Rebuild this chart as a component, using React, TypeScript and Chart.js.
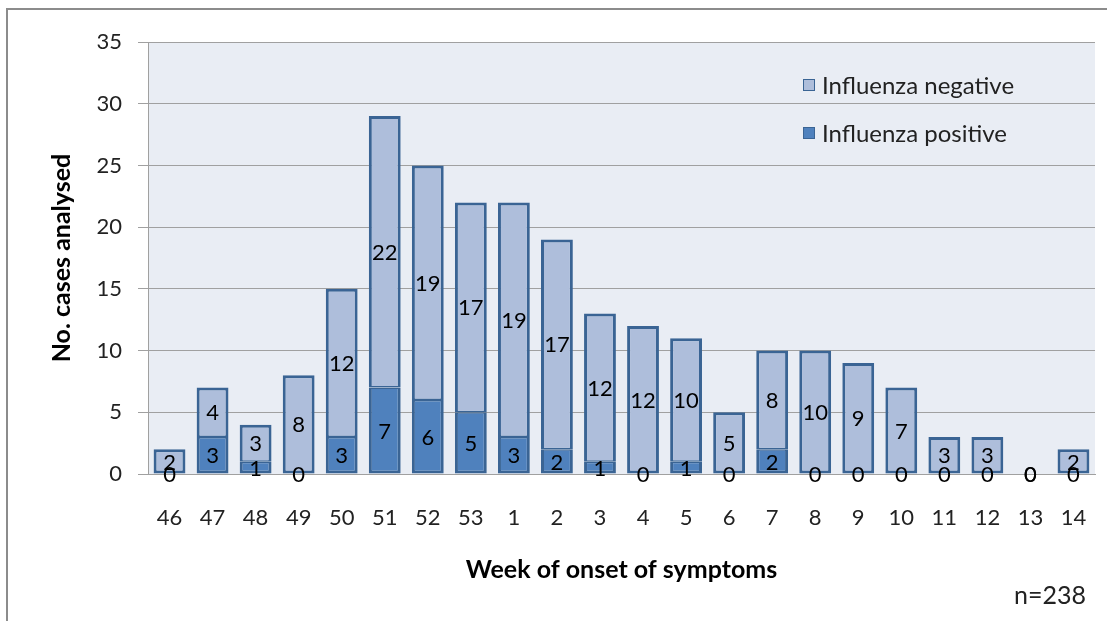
import React, { useEffect, useRef } from 'react';
import { Chart, registerables } from 'chart.js';

Chart.register(...registerables);

const weeks = ['46', '47', '48', '49', '50', '51', '52', '53', '1', '2', '3', '4', '5', '6', '7', '8', '9', '10', '11', '12', '13', '14'];
const positive = [0, 3, 1, 0, 3, 7, 6, 5, 3, 2, 1, 0, 1, 0, 2, 0, 0, 0, 0, 0, 0, 0];
const negative = [2, 4, 3, 8, 12, 22, 19, 17, 19, 17, 12, 12, 10, 5, 8, 10, 9, 7, 3, 3, 0, 2];
const seriesNames = ['Influenza positive', 'Influenza negative'];
const yMin = 0;
const yMax = 35;
const yStep = 5;
const xTitle = 'Week of onset of symptoms';
const yTitle = 'No. cases analysed';
const note = 'n=238';

const FONT = 'Lato, "Noto Sans", sans-serif';
const POS_COLOR = '#4F81BD';
const NEG_COLOR = '#AEBEDB';
const BORDER = '#3A6494';

const decorPlugin = {
  id: 'decor',
  beforeDraw(chart: any) {
    const { ctx, chartArea } = chart;
    ctx.save();
    ctx.fillStyle = '#ffffff';
    ctx.fillRect(0, 0, chart.width, chart.height);
    ctx.fillStyle = '#E9EDF4';
    ctx.fillRect(chartArea.left, chartArea.top, chartArea.right - chartArea.left, chartArea.bottom - chartArea.top);
    ctx.strokeStyle = '#8C8C8C';
    ctx.lineWidth = 2;
    ctx.beginPath();
    ctx.moveTo(7, chart.height);
    ctx.lineTo(7, 9);
    ctx.lineTo(chart.width, 9);
    ctx.stroke();
    ctx.restore();
  },
  afterDatasetsDraw(chart: any) {
    const { ctx, chartArea } = chart;
    ctx.save();
    ctx.fillStyle = '#000000';
    ctx.textAlign = 'center';
    ctx.textBaseline = 'middle';
    ctx.font = '22px ' + FONT;
    chart.data.datasets.forEach((ds: any, di: number) => {
      const meta = chart.getDatasetMeta(di);
      meta.data.forEach((el: any, i: number) => {
        const v = ds.data[i];
        const cy = (el.y + el.base) / 2;
        ctx.fillText(String(v), el.x, cy + 1);
      });
    });
    // legend
    const items = [
      { label: seriesNames[1], color: NEG_COLOR, y: 85 },
      { label: seriesNames[0], color: POS_COLOR, y: 133 },
    ];
    ctx.textAlign = 'left';
    ctx.font = '24px ' + FONT;
    items.forEach((it) => {
      ctx.fillStyle = it.color;
      ctx.fillRect(803, it.y - 6, 12, 12);
      ctx.strokeStyle = BORDER;
      ctx.lineWidth = 1;
      ctx.strokeRect(803.5, it.y - 5.5, 11, 11);
      ctx.fillStyle = '#222222';
      ctx.fillText(it.label, 822, it.y + 1);
    });
    // titles
    ctx.fillStyle = '#000000';
    ctx.font = 'bold 25px ' + FONT;
    ctx.textAlign = 'center';
    ctx.fillText(xTitle, (chartArea.left + chartArea.right) / 2, 570);
    ctx.save();
    ctx.translate(62, (chartArea.top + chartArea.bottom) / 2);
    ctx.rotate(-Math.PI / 2);
    ctx.fillText(yTitle, 0, 0);
    ctx.restore();
    ctx.font = '25px ' + FONT;
    ctx.textAlign = 'right';
    ctx.fillStyle = '#222222';
    ctx.fillText(note, 1086, 596);
    ctx.restore();
  },
};

export default function App() {
  const ref = useRef<HTMLCanvasElement | null>(null);
  useEffect(() => {
    document.body.style.margin = '0';
    const canvas = ref.current;
    if (!canvas) return;
    const chart = new Chart(canvas, {
      type: 'bar',
      data: {
        labels: weeks,
        datasets: [
          {
            label: seriesNames[0],
            data: positive,
            backgroundColor: POS_COLOR,
            borderColor: BORDER,
            borderWidth: (c: any) => (negative[c.dataIndex] > 0 ? { top: 1.5, left: 3, right: 3, bottom: 3 } : 3),
            borderSkipped: false,
            barPercentage: 0.74,
            categoryPercentage: 1,
          },
          {
            label: seriesNames[1],
            data: negative,
            backgroundColor: NEG_COLOR,
            borderColor: BORDER,
            borderWidth: (c: any) => (positive[c.dataIndex] > 0 ? { top: 3, left: 3, right: 3, bottom: 1.5 } : 3),
            borderSkipped: false,
            barPercentage: 0.74,
            categoryPercentage: 1,
          },
        ],
      },
      options: {
        responsive: false,
        animation: false,
        layout: { padding: { top: 42, right: 12, left: 0, bottom: 0 } },
        plugins: {
          legend: { display: false },
          tooltip: { enabled: false },
          title: { display: false },
        },
        scales: {
          x: {
            stacked: true,
            afterFit: (s: any) => { s.height = 621 - 42 - 432; s.paddingLeft = 0; s.paddingRight = 0; },
            grid: { display: false, drawTicks: false },
            border: { display: true, color: '#A0A0A0', width: 1 },
            ticks: { color: '#222222', font: { family: FONT, size: 22 }, padding: 31, maxRotation: 0, autoSkip: false },
          },
          y: {
            stacked: true,
            min: yMin,
            max: yMax,
            afterFit: (s: any) => { s.width = 148; },
            grid: { color: '#A0A0A0', lineWidth: 1, drawTicks: true, tickLength: 10 },
            border: { display: true, color: '#A0A0A0', width: 1 },
            ticks: { stepSize: yStep, color: '#222222', font: { family: FONT, size: 22 }, padding: 16 },
          },
        },
      },
      plugins: [decorPlugin],
    } as any);
    return () => chart.destroy();
  }, []);
  return (
    <div style={{ width: 1107, height: 621 }}>
      <canvas ref={ref} width={1107} height={621} style={{ display: 'block' }} />
    </div>
  );
}
